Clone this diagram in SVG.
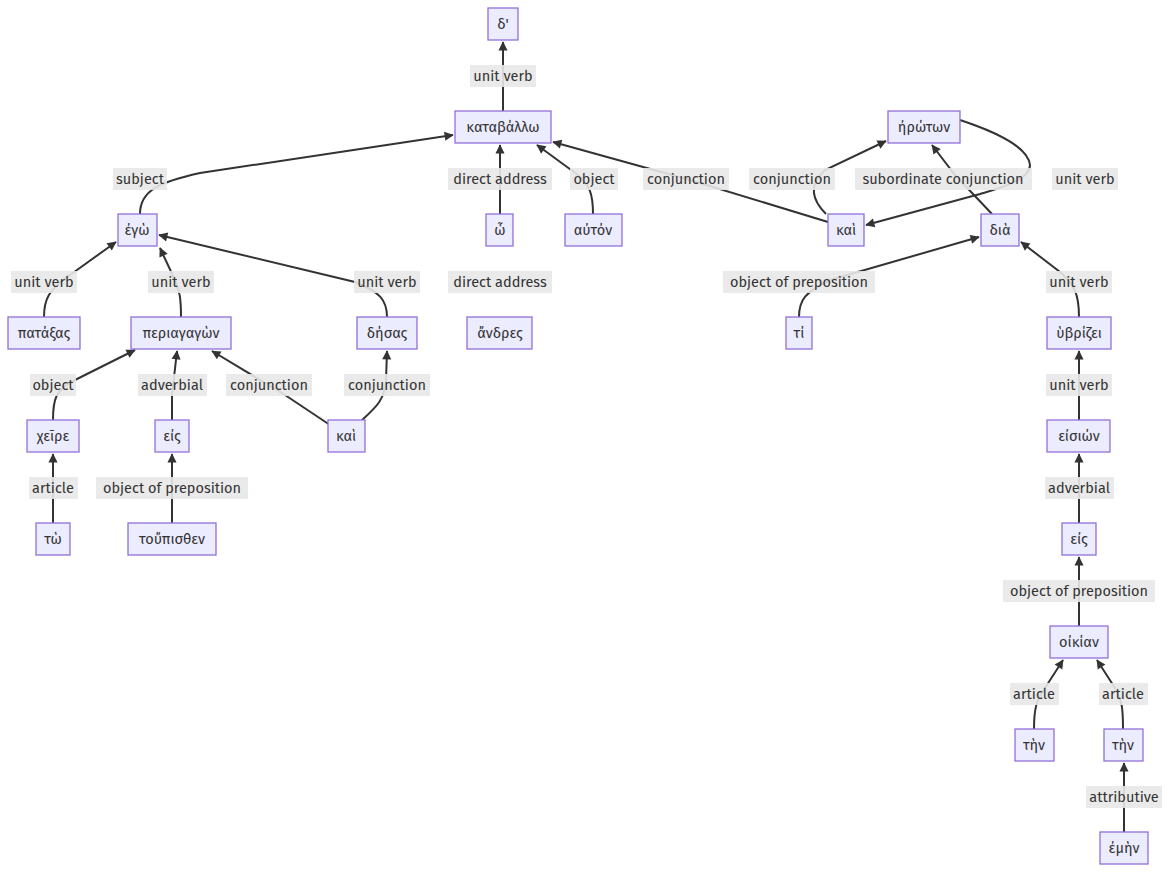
<svg xmlns="http://www.w3.org/2000/svg" width="1170" height="874" viewBox="0 0 1170 874">
<style>
.n rect{fill:#ECECFF;stroke:#9370DB;stroke-width:1.3}
text{font-family:"Fira Sans","Noto Sans","DejaVu Sans",sans-serif;font-size:14.5px;fill:#333;text-anchor:middle;dominant-baseline:central}
.e path{fill:none;stroke:#333;stroke-width:2;marker-end:url(#a)}
.l rect{fill:#e8e8e8;opacity:.9}
</style>
<defs><marker id="a" viewBox="0 0 10 10" refX="9" refY="5" markerWidth="7" markerHeight="7" orient="auto" markerUnits="userSpaceOnUse" overflow="visible"><path d="M0,0L10,5L0,10z" fill="#333" transform="scale(1.3) translate(-2.3,-1.15)"/></marker></defs>
<rect width="1170" height="874" fill="#fff"/>
<g class="e">
<path d="M503,111V42"/>
<path d="M140,214C140,190 160,182 200,173L453,135"/>
<path d="M500,214V145"/>
<path d="M593,214C593,195 590,185 578,175L537,145"/>
<path d="M828,222L690,180L553,142"/>
<path d="M826,214C812,200 808,185 825,170L886,141"/>
<path d="M992,214L955,175L932,145"/>
<path d="M960,120C990,130 1028,145 1030,165C1030,180 1000,188 980,194L866,225"/>
<path d="M799,317C799,300 805,292 830,280L979,237"/>
<path d="M1079,317C1079,295 1075,285 1060,272L1021,242"/>
<path d="M44,317C44,300 48,290 70,275L116,242"/>
<path d="M181,317C181,300 180,290 174,278L160,248"/>
<path d="M387,317C387,300 380,292 355,282L159,235"/>
<path d="M53,420C53,400 55,390 75,380L135,350"/>
<path d="M172,420V395L177,351"/>
<path d="M330,425L285,395L212,351"/>
<path d="M362,420C375,408 385,400 386,380L387,351"/>
<path d="M53,523V454"/>
<path d="M172,523V454"/>
<path d="M1079,420V351"/>
<path d="M1079,523V454"/>
<path d="M1079,626V557"/>
<path d="M1034,729C1034,710 1036,700 1045,688L1063,660"/>
<path d="M1123,729C1123,708 1122,700 1115,688L1097,660"/>
<path d="M1124,832V763"/>
</g>
<g class="l">
<rect x="470" y="65" width="66" height="22"/><text x="503" y="76">unit verb</text>
<rect x="113" y="168" width="54" height="22"/><text x="140" y="179">subject</text>
<rect x="448" y="168" width="104" height="22"/><text x="500" y="179">direct address</text>
<rect x="570" y="168" width="48" height="22"/><text x="594" y="179">object</text>
<rect x="643" y="168" width="86" height="22"/><text x="686" y="179">conjunction</text>
<rect x="749" y="168" width="86" height="22"/><text x="792" y="179">conjunction</text>
<rect x="855" y="168" width="177" height="22"/><text x="943" y="179">subordinate conjunction</text>
<rect x="1052" y="168" width="66" height="22"/><text x="1085" y="179">unit verb</text>
<rect x="11" y="271" width="66" height="22"/><text x="44" y="282">unit verb</text>
<rect x="148" y="271" width="66" height="22"/><text x="181" y="282">unit verb</text>
<rect x="354" y="271" width="66" height="22"/><text x="387" y="282">unit verb</text>
<rect x="448" y="271" width="104" height="22"/><text x="500" y="282">direct address</text>
<rect x="723" y="271" width="152" height="22"/><text x="799" y="282">object of preposition</text>
<rect x="1046" y="271" width="66" height="22"/><text x="1079" y="282">unit verb</text>
<rect x="30" y="374" width="46" height="22"/><text x="53" y="385">object</text>
<rect x="138" y="374" width="69" height="22"/><text x="172" y="385">adverbial</text>
<rect x="226" y="374" width="86" height="22"/><text x="269" y="385">conjunction</text>
<rect x="344" y="374" width="86" height="22"/><text x="387" y="385">conjunction</text>
<rect x="1046" y="374" width="66" height="22"/><text x="1079" y="385">unit verb</text>
<rect x="29" y="477" width="49" height="22"/><text x="53" y="488">article</text>
<rect x="96" y="477" width="152" height="22"/><text x="172" y="488">object of preposition</text>
<rect x="1045" y="477" width="69" height="22"/><text x="1079" y="488">adverbial</text>
<rect x="1003" y="580" width="152" height="22"/><text x="1079" y="591">object of preposition</text>
<rect x="1010" y="683" width="49" height="22"/><text x="1034" y="694">article</text>
<rect x="1099" y="683" width="49" height="22"/><text x="1123" y="694">article</text>
<rect x="1086" y="786" width="76" height="22"/><text x="1124" y="797">attributive</text>
</g>
<g id="n1" class="n"><rect x="488" y="8" width="30" height="32"/><text x="503" y="24">δ'</text></g>
<g id="n2" class="n"><rect x="455" y="111" width="96" height="32"/><text x="503" y="127">καταβάλλω</text></g>
<g id="n3" class="n"><rect x="888" y="111" width="72" height="32"/><text x="924" y="127">ἠρώτων</text></g>
<g id="n4" class="n"><rect x="118" y="214" width="39" height="32"/><text x="137" y="230">ἐγὼ</text></g>
<g id="n5" class="n"><rect x="486" y="214" width="27" height="32"/><text x="500" y="230">ὦ</text></g>
<g id="n6" class="n"><rect x="565" y="214" width="57" height="32"/><text x="593" y="230">αὐτόν</text></g>
<g id="n7" class="n"><rect x="828" y="214" width="36" height="32"/><text x="846" y="230">καὶ</text></g>
<g id="n8" class="n"><rect x="981" y="214" width="38" height="32"/><text x="1000" y="230">διὰ</text></g>
<g id="n9" class="n"><rect x="8" y="317" width="72" height="32"/><text x="44" y="333">πατάξας</text></g>
<g id="n10" class="n"><rect x="131" y="317" width="100" height="32"/><text x="181" y="333">περιαγαγὼν</text></g>
<g id="n11" class="n"><rect x="357" y="317" width="60" height="32"/><text x="387" y="333">δήσας</text></g>
<g id="n12" class="n"><rect x="467" y="317" width="65" height="32"/><text x="500" y="333">ἄνδρες</text></g>
<g id="n13" class="n"><rect x="786" y="317" width="26" height="32"/><text x="799" y="333">τί</text></g>
<g id="n14" class="n"><rect x="1047" y="317" width="64" height="32"/><text x="1079" y="333">ὑβρίζει</text></g>
<g id="n15" class="n"><rect x="27" y="420" width="52" height="32"/><text x="53" y="436">χεῖρε</text></g>
<g id="n16" class="n"><rect x="155" y="420" width="34" height="32"/><text x="172" y="436">εἰς</text></g>
<g id="n17" class="n"><rect x="328" y="420" width="37" height="32"/><text x="346" y="436">καὶ</text></g>
<g id="n18" class="n"><rect x="1047" y="420" width="63" height="32"/><text x="1079" y="436">εἰσιών</text></g>
<g id="n19" class="n"><rect x="36" y="523" width="34" height="32"/><text x="53" y="539">τὼ</text></g>
<g id="n20" class="n"><rect x="128" y="523" width="88" height="32"/><text x="172" y="539">τοὔπισθεν</text></g>
<g id="n21" class="n"><rect x="1062" y="523" width="34" height="32"/><text x="1079" y="539">εἰς</text></g>
<g id="n22" class="n"><rect x="1050" y="626" width="58" height="32"/><text x="1079" y="642">οἰκίαν</text></g>
<g id="n23" class="n"><rect x="1015" y="729" width="39" height="32"/><text x="1034" y="745">τὴν</text></g>
<g id="n24" class="n"><rect x="1104" y="729" width="39" height="32"/><text x="1123" y="745">τὴν</text></g>
<g id="n25" class="n"><rect x="1100" y="832" width="48" height="32"/><text x="1124" y="848">ἐμὴν</text></g>
</svg>
